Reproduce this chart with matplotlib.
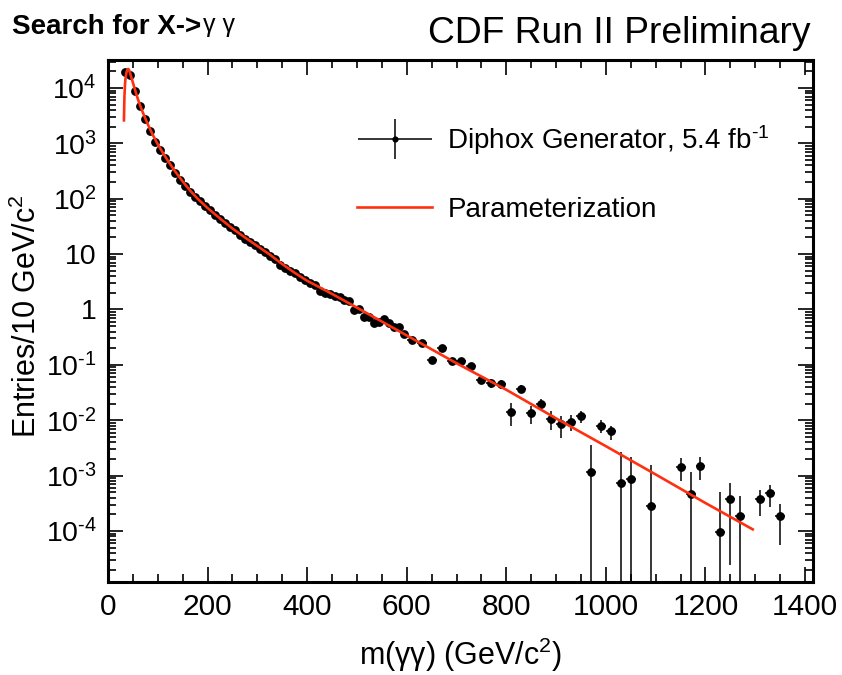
import numpy as np
import matplotlib
matplotlib.use("Agg")
import matplotlib.pyplot as plt
from matplotlib.ticker import FixedLocator, FixedFormatter, MultipleLocator, LogLocator, NullFormatter
from matplotlib.lines import Line2D
from matplotlib.legend_handler import HandlerErrorbar

plt.rcParams['font.family'] = ['Liberation Sans', 'DejaVu Sans']
plt.rcParams['mathtext.fontset'] = 'custom'
plt.rcParams['mathtext.rm'] = 'Liberation Sans'
plt.rcParams['mathtext.it'] = 'Liberation Sans:italic'
plt.rcParams['mathtext.bf'] = 'Liberation Sans:bold'

# ---- data: 10 GeV bins (35 .. 595 GeV)
mass_fine = [35, 45, 55, 65, 75, 85, 95, 105, 115, 125, 135, 145, 155, 165, 175,
             185, 195, 205, 215, 225, 235, 245, 255, 265, 275, 285, 295, 305, 315,
             325, 335, 345, 355, 365, 375, 385, 395, 405, 415, 425, 435, 445, 455,
             465, 475, 485, 495, 505, 515, 525, 535, 545, 555, 565, 575, 585, 595]
entries_fine = [19700, 17400, 8800, 4800, 2750, 1690, 1080, 760, 535, 400, 290, 220,
                172, 135, 108, 90, 75, 63, 51, 43, 37, 31.5, 27, 22.5, 18.5, 16.5,
                14.4, 12.4, 10.8, 9.3, 8.2, 6.3, 5.5, 4.9, 4.5, 3.8, 3.4, 3.05, 2.75,
                2.2, 2.0, 1.87, 1.74, 1.70, 1.46, 1.40, 0.97, 1.03, 0.74, 0.74, 0.574,
                0.606, 0.68, 0.574, 0.486, 0.486, 0.368]

# ---- data: 20 GeV bins (610 .. 1350 GeV), with lower / upper error-bar ends
mass_coarse = [610, 630, 650, 670, 690, 710, 730, 750, 770, 790, 810, 830, 850, 870,
               890, 910, 930, 950, 970, 990, 1010, 1030, 1050, 1090, 1150, 1170, 1190,
               1230, 1250, 1270, 1310, 1330, 1350]
entries_coarse = [0.278, 0.25, 0.121, 0.203, 0.116, 0.116, 0.094, 0.054, 0.047, 0.045,
                  0.0141, 0.037, 0.0137, 0.0196, 0.0105, 0.0085, 0.0094, 0.012, 0.00114,
                  0.0079, 0.0063, 7.5e-4, 8.6e-4, 2.84e-4, 1.42e-3, 4.68e-4, 1.52e-3,
                  9.5e-5, 3.8e-4, 1.9e-4, 3.8e-4, 4.8e-4, 1.9e-4]
err_low_end = [0.26, 0.23, 0.108, 0.185, 0.103, 0.103, 0.082, 0.046, 0.039, 0.037,
               0.0080, 0.031, 0.0087, 0.0155, 0.0067, 0.0048, 0.0063, 0.0089, 1e-6,
               0.0058, 0.0044, 1e-6, 1e-6, 1e-6, 8.1e-4, 1e-6, 8.5e-4,
               1e-6, 2.4e-5, 1e-6, 1.9e-4, 2.7e-4, 5.6e-5]
err_high_end = [0.296, 0.27, 0.134, 0.221, 0.129, 0.129, 0.106, 0.062, 0.055, 0.053,
                0.0205, 0.043, 0.0183, 0.0238, 0.0146, 0.0117, 0.0126, 0.0146, 0.0036,
                0.0099, 0.0080, 2.7e-3, 2.2e-3, 1.57e-3, 2.1e-3, 1.18e-3, 2.2e-3,
                5.1e-4, 7.3e-4, 4.2e-4, 5.6e-4, 6.7e-4, 3.1e-4]

# ---- parameterization curve
fit_mass = [32, 33, 34, 35, 37, 39, 41, 43, 46, 50, 55, 60, 65, 70, 80, 90, 100, 110,
            120, 135, 150, 165, 180, 200, 225, 250, 275, 300, 325, 350, 375, 400, 446,
            500, 600, 700, 800, 900, 1000, 1100, 1200, 1295]
fit_value = [2600, 7000, 11000, 14500, 19000, 21500, 22000, 20500, 16500, 12500, 8800,
             6300, 4700, 3600, 2200, 1420, 960, 680, 490, 310, 205, 140, 100, 68, 44,
             29, 20, 14, 9.8, 6.6, 4.6, 3.3, 2.0, 1.08, 0.34, 0.107, 0.0355, 0.0108,
             0.0034, 1.05e-3, 3.2e-4, 1.07e-4]

x_ticks = [0, 200, 400, 600, 800, 1000, 1200, 1400]
y_ticks = [1e-4, 1e-3, 1e-2, 1e-1, 1, 10, 1e2, 1e3, 1e4]
y_ticklabels = [r'10$^{\text{-}4}$', r'10$^{\text{-}3}$', r'10$^{\text{-}2}$',
                r'10$^{\text{-}1}$', '1', '10', '10$^{2}$', '10$^{3}$', '10$^{4}$']

red = '#ff3010'

fig = plt.figure(figsize=(8.42, 6.75), dpi=100)
ax = fig.add_axes([108/842, 1-582/675, 705/842, 522/675])

yc = np.array(entries_coarse)
yerr = [yc - np.array(err_low_end), np.array(err_high_end) - yc]

ax.errorbar(mass_fine, entries_fine, xerr=5, fmt='o', color='black', ms=5.3,
            elinewidth=1.1, capsize=0, zorder=3)
ax.errorbar(mass_coarse, entries_coarse, xerr=10, yerr=yerr, fmt='o', color='black',
            ms=5.3, elinewidth=1.1, capsize=0, zorder=3)
ax.plot(fit_mass, fit_value, color=red, lw=1.9, zorder=4)

ax.set_yscale('log')
ax.set_xlim(0, 1416)
ax.set_ylim(1.2e-5, 3.2e4)

ax.xaxis.set_major_locator(FixedLocator(x_ticks))
ax.xaxis.set_minor_locator(MultipleLocator(50))
ax.yaxis.set_major_locator(FixedLocator(y_ticks))
ax.yaxis.set_major_formatter(FixedFormatter(y_ticklabels))
ax.yaxis.set_minor_locator(LogLocator(base=10, subs=np.arange(2, 10), numticks=100))
ax.yaxis.set_minor_formatter(NullFormatter())

ax.tick_params(which='both', direction='in', top=True, right=True, width=1.2,
               colors='black')
ax.tick_params(axis='x', labelsize=21.5)
ax.tick_params(axis='y', labelsize=20.5)
ax.tick_params(which='major', length=11, pad=8)
ax.tick_params(which='minor', length=5.5)
for sp in ax.spines.values():
    sp.set_linewidth(2.2)

ax.set_xlabel('m(γγ) (GeV/c$^{2}$)', fontsize=22)
ax.xaxis.set_label_coords(0.5, -0.103)
ax.set_ylabel('Entries/10 GeV/c$^{2}$', fontsize=22)
ax.yaxis.set_label_coords(-0.092, 0.51)

proxy = ax.errorbar([], [], xerr=[], yerr=[], fmt='o', color='black', ms=5.3,
                    elinewidth=1.1, capsize=0)
handles = [proxy, Line2D([], [], color=red, lw=1.9)]
labels = [r'Diphox Generator, 5.4 fb$^{\text{-}1}$', 'Parameterization']
leg = ax.legend(handles, labels, loc='upper left', bbox_to_anchor=(0.3376, 0.900),
                borderaxespad=0, frameon=False, fontsize=20, handlelength=2.7,
                handletextpad=0.55, labelspacing=1.43, markerscale=0.65,
                handler_map={type(proxy): HandlerErrorbar(xerr_size=1.33, yerr_size=0.72)})

t1 = fig.text(12/842, 1-34/675, 'Search for X->', fontsize=20, fontweight='bold',
              ha='left', va='baseline')
ax.annotate('γ γ', xy=(1, 0), xycoords=t1, xytext=(1, 2), textcoords='offset points',
            fontsize=18, va='bottom', annotation_clip=False)
fig.text(810/842, 1-43/675, 'CDF Run II Preliminary', fontsize=26.8, ha='right',
         va='baseline')

fig.savefig('out.png', dpi=100)
